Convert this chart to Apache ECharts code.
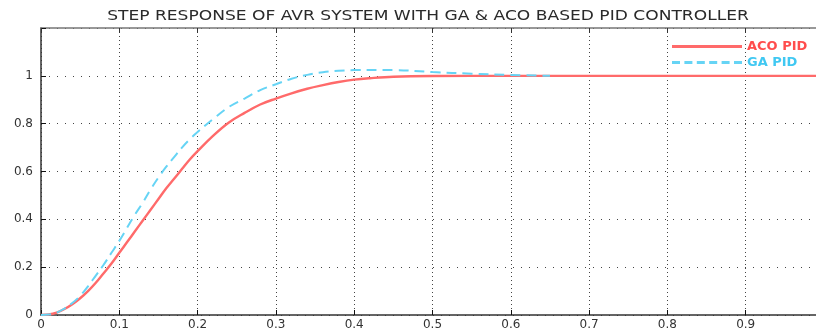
<!DOCTYPE html>
<html><head><meta charset="utf-8">
<script src="https://cdn.jsdelivr.net/npm/echarts@6/dist/echarts.min.js"></script>
<style>html,body{margin:0;padding:0;background:#fff}#c{width:816px;height:332px}</style>
</head><body><div id="c"></div>
<script>
const titleText = 'STEP RESPONSE OF AVR SYSTEM WITH GA & ACO BASED PID CONTROLLER';
const seriesNames = ['ACO PID','GA PID'];
const acoT = [0,0.01,0.02,0.03,0.04,0.05,0.06,0.07,0.08,0.09,0.1,0.11,0.12,0.13,0.14,0.15,0.16,0.17,0.18,0.19,0.2,0.22,0.24,0.26,0.28,0.3,0.32,0.34,0.36,0.38,0.4,0.42,0.45,0.5,0.6,0.7,0.8,0.9,1.0];
const acoY = [0,0.002,0.01,0.025,0.045,0.07,0.10,0.135,0.175,0.215,0.26,0.305,0.35,0.395,0.44,0.485,0.53,0.57,0.61,0.65,0.685,0.75,0.805,0.845,0.88,0.905,0.927,0.946,0.961,0.974,0.984,0.99,0.996,0.999,1.0,1.0,1.0,1.0,1.0];
const gaT = [0,0.01,0.02,0.03,0.04,0.05,0.06,0.07,0.08,0.09,0.1,0.11,0.12,0.13,0.14,0.15,0.16,0.17,0.18,0.19,0.2,0.22,0.24,0.26,0.28,0.3,0.32,0.34,0.36,0.38,0.4,0.45,0.5,0.55,0.6,0.65];
const gaY = [0,0.002,0.01,0.027,0.05,0.08,0.12,0.165,0.21,0.26,0.31,0.365,0.42,0.47,0.525,0.575,0.62,0.66,0.70,0.735,0.765,0.82,0.87,0.905,0.94,0.965,0.988,1.004,1.015,1.021,1.024,1.024,1.016,1.009,1.004,1.0];

const aco = acoT.map((t,i)=>[t,acoY[i]]);
const ga = gaT.map((t,i)=>[t,gaY[i]]);
const chart = echarts.init(document.getElementById('c'));
const fnt = 'DejaVu Sans';
const redC = '#ff6a6a', blueC = '#66d4f5';
chart.setOption({
  animation:false,
  graphic:[{type:'text',x:428,y:16,scaleX:1.22,
    style:{text:titleText,fontFamily:fnt,fontSize:14,fill:'#2a2a2a',align:'center',verticalAlign:'middle'}}],
  legend:{left:667,top:35,orient:'vertical',itemWidth:70,itemHeight:3,itemGap:3,align:'left',
    textStyle:{fontFamily:fnt,fontSize:13,fontWeight:'bold'},
    data:[{name:seriesNames[0],icon:'path://M0,0h70v3h-70z',textStyle:{color:'#ff4d4d'}},
          {name:seriesNames[1],icon:'path://M0,0h8v3h-8z M12.4,0h8v3h-8z M24.8,0h8v3h-8z M37.2,0h8v3h-8z M49.6,0h8v3h-8z M62,0h8v3h-8z',textStyle:{color:'#40c8f2'}}]},
  grid:{left:41,top:28,width:783,height:287,outerBoundsMode:'none'},
  xAxis:[{type:'value',min:0,max:1,interval:0.1,
    axisLine:{show:true,lineStyle:{color:'#333',width:1.5}},
    axisTick:{inside:true,length:5,lineStyle:{color:'#111'}},
    axisLabel:{fontFamily:fnt,fontSize:12,color:'#333',margin:4},
    splitLine:{show:true,lineStyle:{color:'#444',type:[1,3],width:1}}},
   {type:'value',position:'top',min:0,max:1,interval:0.1,
    axisLine:{show:true,lineStyle:{color:'#777',width:1.5}},
    axisTick:{inside:true,length:5,lineStyle:{color:'#333'}},
    axisLabel:{show:false},splitLine:{show:false}}],
  yAxis:{type:'value',min:0,max:1.2,interval:0.2,
    axisLine:{show:true,lineStyle:{color:'#333',width:1.5}},
    axisTick:{show:true,inside:true,length:5,lineStyle:{color:'#111'}},
    axisLabel:{fontFamily:fnt,fontSize:12,color:'#333',margin:8,formatter:v=>v>1.1?'':String(+v.toFixed(1))},
    splitLine:{show:true,lineStyle:{color:'#444',type:[1,7],width:1}}},
  series:[
    {name:seriesNames[0],type:'line',data:aco,smooth:0.4,symbol:'none',z:3,
     lineStyle:{color:redC,width:2.4},itemStyle:{color:redC}},
    {name:seriesNames[1],type:'line',data:ga,smooth:0.4,symbol:'none',z:4,
     lineStyle:{color:blueC,width:2,type:[10,6]},itemStyle:{color:blueC}}
  ]
});
</script></body></html>
